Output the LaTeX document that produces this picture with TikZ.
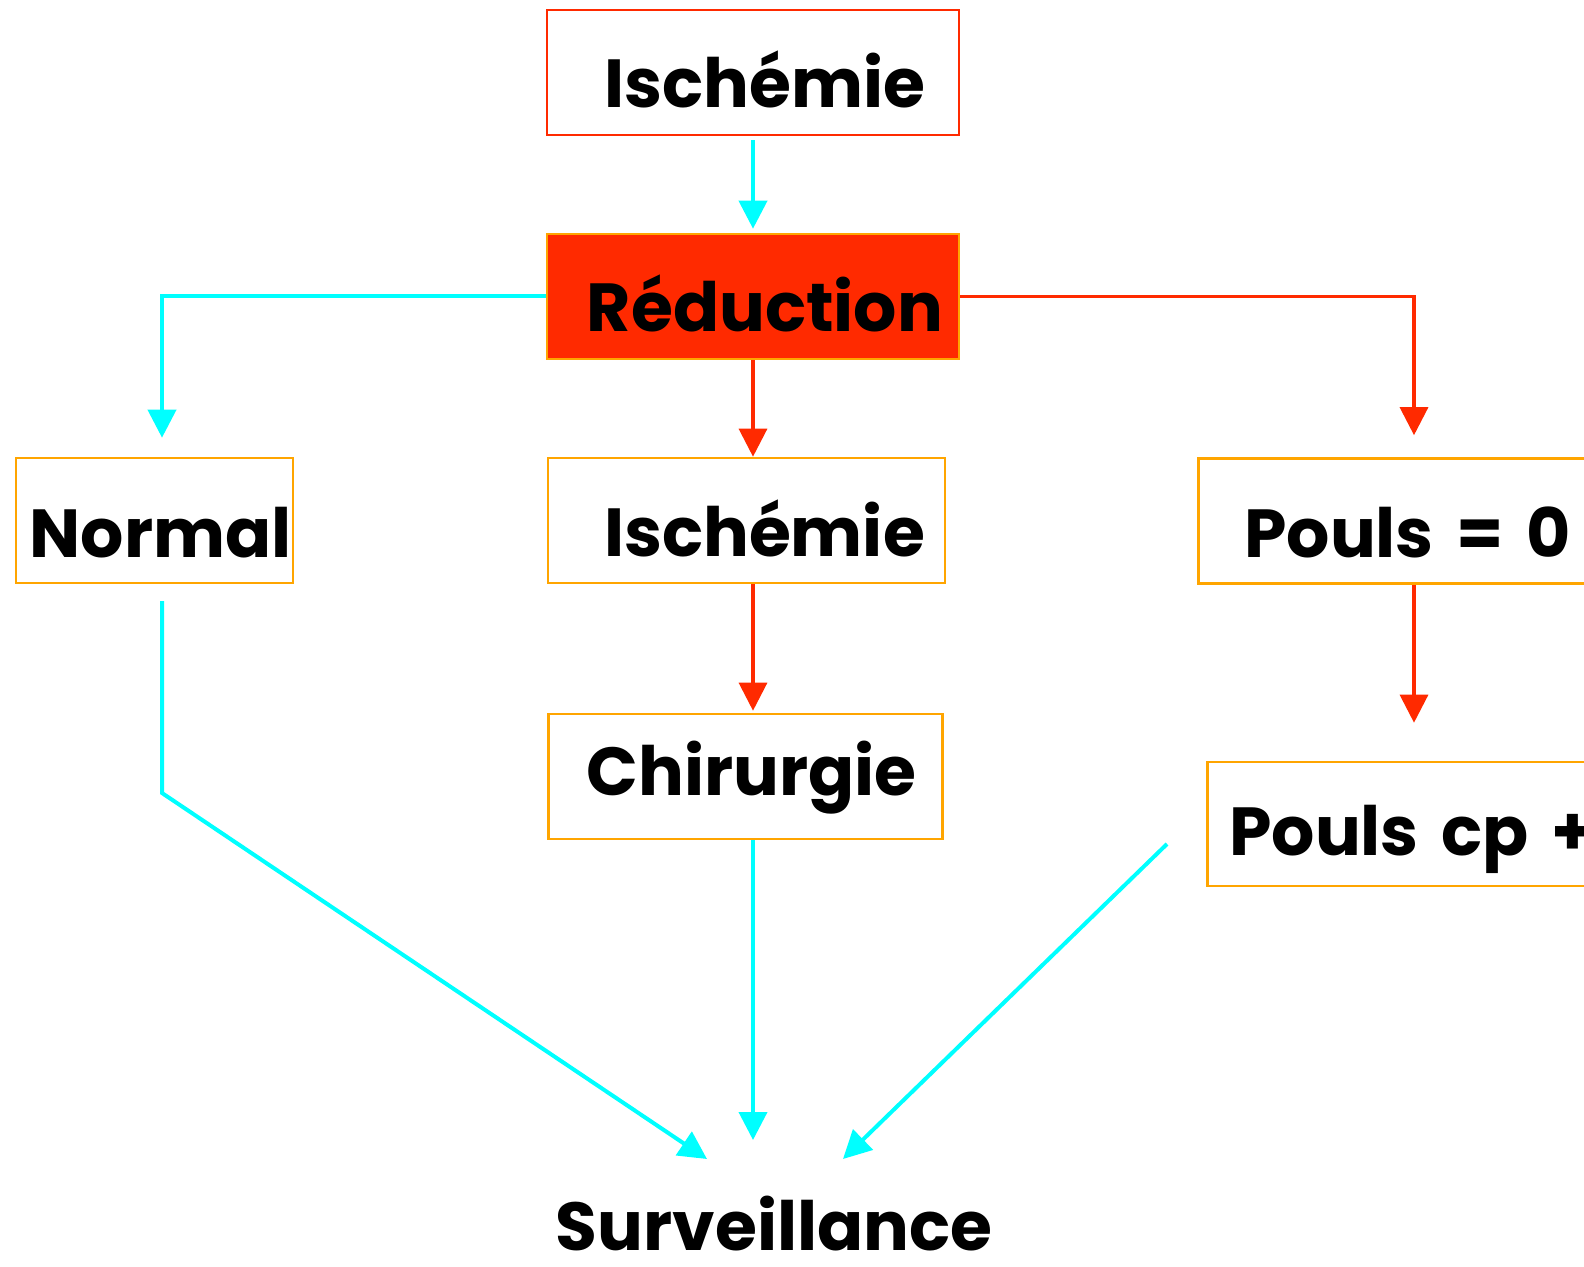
\documentclass[tikz,border=0pt]{standalone}
\usepackage{fontspec}
\setmainfont{Poppins}
\usetikzlibrary{arrows.meta,calc}
\definecolor{cyanc}{HTML}{00FFFF}
\definecolor{redc}{HTML}{FF2A00}
\definecolor{orangec}{HTML}{FFA500}
\tikzset{
  box/.style={draw=orangec, line width=1.3pt, rectangle, minimum height=62.5pt, inner sep=0pt, text depth=0pt, text height=35.5pt, font=\fontsize{34}{40}\selectfont\bfseries},
  cyanarrow/.style={draw=cyanc, line width=2pt, -{Triangle[length=14pt,width=14pt]}},
  redarrow/.style={draw=redc, line width=1.6pt, -{Triangle[length=14pt,width=14pt]}},
}
\begin{document}
\begin{tikzpicture}[x=0.5pt,y=-0.5pt]
\clip (0,0) rectangle (1584,1267);
\fill[white] (0,0) rectangle (1584,1267);
\node[box, draw=redc, minimum width=206pt] (isch) at (753,72.5) {\hspace{12pt}Ischémie};
\node[box, fill=redc, minimum width=206pt] (redu) at (753,296.5) {\hspace{12pt}Réduction};
\node[box, minimum width=198.5pt] (isch2) at (746.5,520.5) {\hspace{18pt}Ischémie};
\node[box, minimum width=197pt, text height=18.5pt] (chir) at (745.5,776.5) {\hspace{6pt}Chirurgie};
\node[box, minimum width=138.5pt, text height=36.5pt] (norm) at (154.5,520.5) {\hspace{6pt}Normal};
\node[box, minimum width=250pt, text height=36pt, anchor=west, text width=240pt, align=left] (p0) at (1197,521) {\hspace{18pt}Pouls = 0};
\node[box, minimum width=250pt, minimum height=62pt, text height=31pt, anchor=west, text width=240pt, align=left] (pcp) at (1206,824) {\hspace{6pt}Pouls cp +};
\node[font=\fontsize{34}{40}\selectfont\bfseries, inner sep=0pt, anchor=base] (surv) at (774,1250) {Surveillance};
\coordinate (redL) at (162,296.5);
\coordinate (redR) at (1414,296.5);
\coordinate (nA) at (162,601);
\coordinate (nB) at (162,793);
\coordinate (sL) at (707,1159);
\coordinate (sM) at (753,1140);
\coordinate (sR) at (843,1159);
\coordinate (pA) at (1167,844);
\draw[cyanarrow] ($(isch.south)+(0,4)$) -- ($(redu.north)+(0,-4)$);
\draw[cyanarrow] (redu.west) -- (redL) -- ($(redL |- norm.north)+(0,-19)$);
\draw[redarrow] (redu.south) -- (redu.south |- isch2.north);
\draw[redarrow] (redu.south |- isch2.south) -- ($(redu.south |- chir.north)+(0,-2)$);
\draw[redarrow] (redu.east) -- (redR) -- ($(redR |- p0.north)+(0,-22)$);
\draw[redarrow] (redR |- p0.south) -- ($(redR |- pcp.north)+(0,-38)$);
\draw[cyanarrow] (nA) -- (nB) -- (sL);
\draw[cyanarrow] (redu.south |- chir.south) -- (sM);
\draw[cyanarrow] (pA) -- (sR);
\end{tikzpicture}
\end{document}
